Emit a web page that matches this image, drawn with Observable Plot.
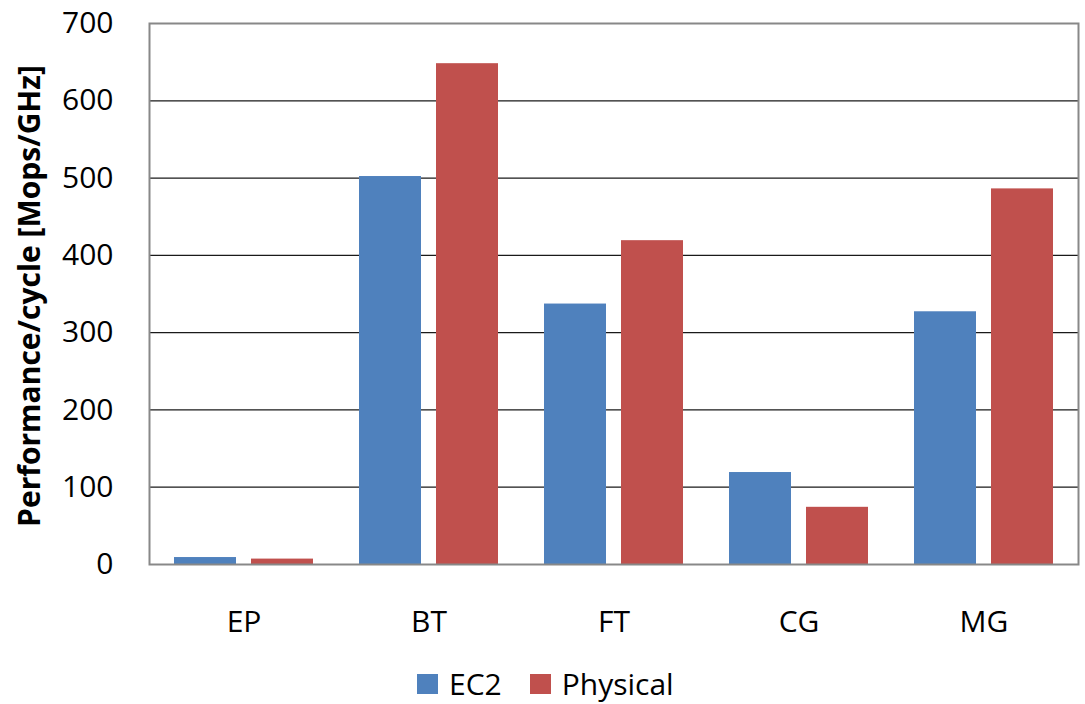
<!DOCTYPE html>
<html>
<head>
<meta charset="utf-8">
<script src="https://cdn.jsdelivr.net/npm/d3@7"></script>
<script src="https://cdn.jsdelivr.net/npm/@observablehq/plot@0.6"></script>
<style>
  body { margin: 0; background: #fff; font-family: "Open Sans", sans-serif; }
  #chart svg { display: block; }
  #legend { margin-left: 417px; margin-top: 14px; height: 40px; display: flex; align-items: center; font-size: 30px; color: #000; line-height: 40px; }
  #legend .item { display: flex; align-items: center; }
  #legend .item + .item { margin-left: 28px; }
  #legend span.sw { display: inline-block; width: 21px; height: 20px; margin-right: 11px; }
</style>
</head>
<body>
<div id="chart"></div>
<div id="legend"></div>
<script>
const categories = ["EP", "BT", "FT", "CG", "MG"];
const series = ["EC2", "Physical"];
const ec2 = [9, 502, 337, 119, 327];
const physical = [7, 648, 419, 74, 486];
const yTicks = [0, 100, 200, 300, 400, 500, 600, 700];
const colors = ["#4F81BD", "#C0504D"];

const ec2Data = categories.map((c, i) => ({cat: c, value: ec2[i]}));
const physData = categories.map((c, i) => ({cat: c, value: physical[i]}));

const chart = Plot.plot({
  width: 1085,
  height: 650,
  marginTop: 23,
  marginBottom: 86,
  marginLeft: 149,
  marginRight: 7,
  style: {fontFamily: "'Open Sans', sans-serif", fontSize: "30px", color: "#000", background: "#fff"},
  x: {domain: categories, paddingInner: 0.25, paddingOuter: 0.125, label: null},
  y: {domain: [0, 700], ticks: yTicks, label: null},
  marks: [
    Plot.ruleY(yTicks.filter(d => d > 0), {stroke: "#1a1a1a", strokeWidth: 1.2}),
    Plot.barY(ec2Data, {x: "cat", y: "value", fill: colors[0], insetRight: 77}),
    Plot.barY(physData, {x: "cat", y: "value", fill: colors[1], insetLeft: 77}),
    Plot.axisY({ticks: yTicks, tickSize: 0, tickPadding: 36, fontSize: 30, label: null}),
    Plot.axisX({tickSize: 0, tickPadding: 46, fontSize: 30, label: null}),
    Plot.frame({stroke: "#888", strokeWidth: 2}),
    Plot.text(["Performance/cycle [Mops/GHz]"], {
      frameAnchor: "left", textAnchor: "middle", dx: -119, dy: 2, rotate: -90, fontWeight: "bold", fontSize: 30
    })
  ]
});
document.getElementById("chart").appendChild(chart);

const legend = document.getElementById("legend");
series.forEach((s, i) => {
  const item = document.createElement("div");
  item.className = "item";
  item.innerHTML = `<span class="sw" style="background:${colors[i]}"></span><span>${s}</span>`;
  legend.appendChild(item);
});
</script>
</body>
</html>
